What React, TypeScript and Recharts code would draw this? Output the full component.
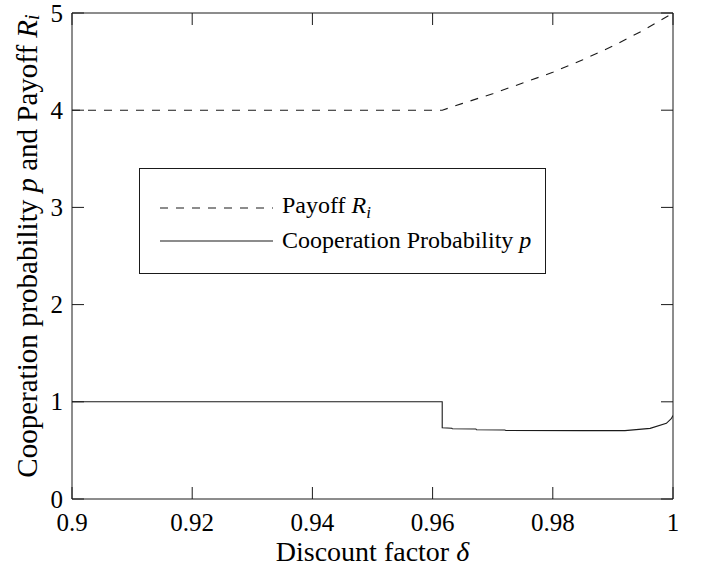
import React from 'react';
import { LineChart, Line, XAxis, YAxis, Legend } from 'recharts';

// Discount factor ticks and value ticks
const xTicks = [0.9, 0.92, 0.94, 0.96, 0.98, 1];
const yTicks = [0, 1, 2, 3, 4, 5];

// Payoff R_i versus discount factor
const payoffDelta = [0.9, 0.9616, 0.965, 0.97, 0.975, 0.98, 0.985, 0.99, 0.995, 1.0];
const payoffValue = [4, 4, 4.07, 4.17, 4.28, 4.39, 4.52, 4.66, 4.82, 5.0];

// Cooperation probability p versus discount factor
const coopDelta = [0.9, 0.9616, 0.9616, 0.9632, 0.9633, 0.9672, 0.9673, 0.972, 0.9722, 0.985, 0.992, 0.9962, 0.9989, 0.99975, 1.0];
const coopValue = [1, 1, 0.733, 0.728, 0.722, 0.72, 0.712, 0.71, 0.705, 0.703, 0.703, 0.727, 0.779, 0.83, 0.86];

const payoffData = payoffDelta.map((d, i) => ({ d, v: payoffValue[i] }));
const coopData = coopDelta.map((d, i) => ({ d, v: coopValue[i] }));

const FONT = '"Liberation Serif", "Times New Roman", serif';
const TICK_FS = 25;
const XLABEL_FS = 28;
const YLABEL_FS = 29;
const LEGEND_FS = 24;
const INK = '#1a1a1a';

const fmtX = (v: number) => (v === 1 ? '1' : String(Number(v.toFixed(2))));

const BottomTick = (props: any) => {
  const { x, y, payload } = props;
  return (
    <g>
      <line x1={x} x2={x} y1={y} y2={y - 12} stroke={INK} strokeWidth={1} />
      <text x={x} y={y + 23} textAnchor="middle" dominantBaseline="central" fontFamily={FONT} fontSize={TICK_FS} fill="#000">
        {fmtX(payload.value)}
      </text>
    </g>
  );
};

const TopTick = (props: any) => {
  const { x, y } = props;
  return <line x1={x} x2={x} y1={y} y2={y + 12} stroke={INK} strokeWidth={1} />;
};

const LeftTick = (props: any) => {
  const { x, y, payload } = props;
  return (
    <g>
      <line x1={x} x2={x + 12} y1={y} y2={y} stroke={INK} strokeWidth={1} />
      <text x={x - 9} y={y} textAnchor="end" dominantBaseline="central" fontFamily={FONT} fontSize={TICK_FS} fill="#000">
        {String(payload.value)}
      </text>
    </g>
  );
};

const RightTick = (props: any) => {
  const { x, y } = props;
  return <line x1={x} x2={x - 12} y1={y} y2={y} stroke={INK} strokeWidth={1} />;
};

const XLabel = (props: any) => {
  const vb = props.viewBox;
  return (
    <text x={vb.x + vb.width / 2} y={vb.y + 52} textAnchor="middle" dominantBaseline="central" fontFamily={FONT} fontSize={XLABEL_FS} fill="#000">
      Discount factor <tspan fontStyle="italic">δ</tspan>
    </text>
  );
};

const YLabel = (props: any) => {
  const vb = props.viewBox;
  const cx = 27;
  const cy = vb.y + vb.height / 2 - 10;
  return (
    <text x={cx} y={cy} transform={`rotate(-90, ${cx}, ${cy})`} textAnchor="middle" dominantBaseline="central" fontFamily={FONT} fontSize={YLABEL_FS} fill="#000">
      Cooperation probability <tspan fontStyle="italic">p</tspan> and Payoff <tspan fontStyle="italic">R</tspan>
      <tspan fontStyle="italic" fontSize={20} dy={5}>i</tspan>
    </text>
  );
};

const LegendBox = () => (
  <div
    style={{
      border: `1px solid ${INK}`,
      background: '#fff',
      padding: '22px 14px 16px 20px',
      fontFamily: FONT,
      fontSize: LEGEND_FS,
      color: '#000',
      whiteSpace: 'nowrap',
    }}
  >
    {[
      { dash: '8 8', label: (<span>Payoff <i>R</i><sub style={{ fontSize: 17, verticalAlign: '-5px' }}><i>i</i></sub></span>) },
      { dash: undefined, label: (<span>Cooperation Probability <i>p</i></span>) },
    ].map((row, i) => (
      <div key={i} style={{ display: 'flex', alignItems: 'center', height: 33 }}>
        <svg width={113} height={10} style={{ marginRight: 9 }}>
          <line x1={0} x2={113} y1={5} y2={5} stroke={INK} strokeWidth={1.1} strokeDasharray={row.dash} />
        </svg>
        {row.label}
      </div>
    ))}
  </div>
);

export default function App() {
  return (
    <div style={{ position: 'absolute', left: 0, top: 0, width: 702, height: 566, background: '#fff' }}>
      <LineChart width={702} height={566} margin={{ top: 12, right: 28, bottom: 0, left: 0 }}>
        <XAxis
          xAxisId="bottom"
          dataKey="d"
          type="number"
          domain={[0.9, 1]}
          ticks={xTicks}
          interval={0}
          allowDataOverflow
          height={67}
          tickSize={0}
          tickMargin={0}
          axisLine={{ stroke: INK, strokeWidth: 1 }}
          tickLine={false}
          tick={<BottomTick />}
          label={<XLabel />}
        />
        <XAxis
          xAxisId="top"
          orientation="top"
          dataKey="d"
          type="number"
          domain={[0.9, 1]}
          ticks={xTicks}
          interval={0}
          allowDataOverflow
          height={1}
          tickSize={0}
          tickMargin={0}
          axisLine={{ stroke: INK, strokeWidth: 1 }}
          tickLine={false}
          tick={<TopTick />}
        />
        <YAxis
          yAxisId="left"
          type="number"
          domain={[0, 5]}
          ticks={yTicks}
          interval={0}
          allowDataOverflow
          width={72}
          tickSize={0}
          tickMargin={0}
          axisLine={{ stroke: INK, strokeWidth: 1 }}
          tickLine={false}
          tick={<LeftTick />}
          label={<YLabel />}
        />
        <YAxis
          yAxisId="right"
          orientation="right"
          type="number"
          domain={[0, 5]}
          ticks={yTicks}
          interval={0}
          allowDataOverflow
          width={1}
          tickSize={0}
          tickMargin={0}
          axisLine={{ stroke: INK, strokeWidth: 1 }}
          tickLine={false}
          tick={<RightTick />}
        />
        <Legend
          layout="horizontal"
          verticalAlign="middle"
          align="center"
          content={<LegendBox />}
          wrapperStyle={{ left: 139, top: 168, width: 'auto', height: 'auto' }}
        />
        <Line
          xAxisId="bottom"
          yAxisId="left"
          data={payoffData}
          dataKey="v"
          type="linear"
          stroke={INK}
          strokeWidth={1.1}
          strokeDasharray="8 8"
          dot={false}
          isAnimationActive={false}
          name="Payoff"
        />
        <Line
          xAxisId="bottom"
          yAxisId="left"
          data={coopData}
          dataKey="v"
          type="linear"
          stroke={INK}
          strokeWidth={1.1}
          dot={false}
          isAnimationActive={false}
          name="Cooperation Probability"
        />
      </LineChart>
    </div>
  );
}
